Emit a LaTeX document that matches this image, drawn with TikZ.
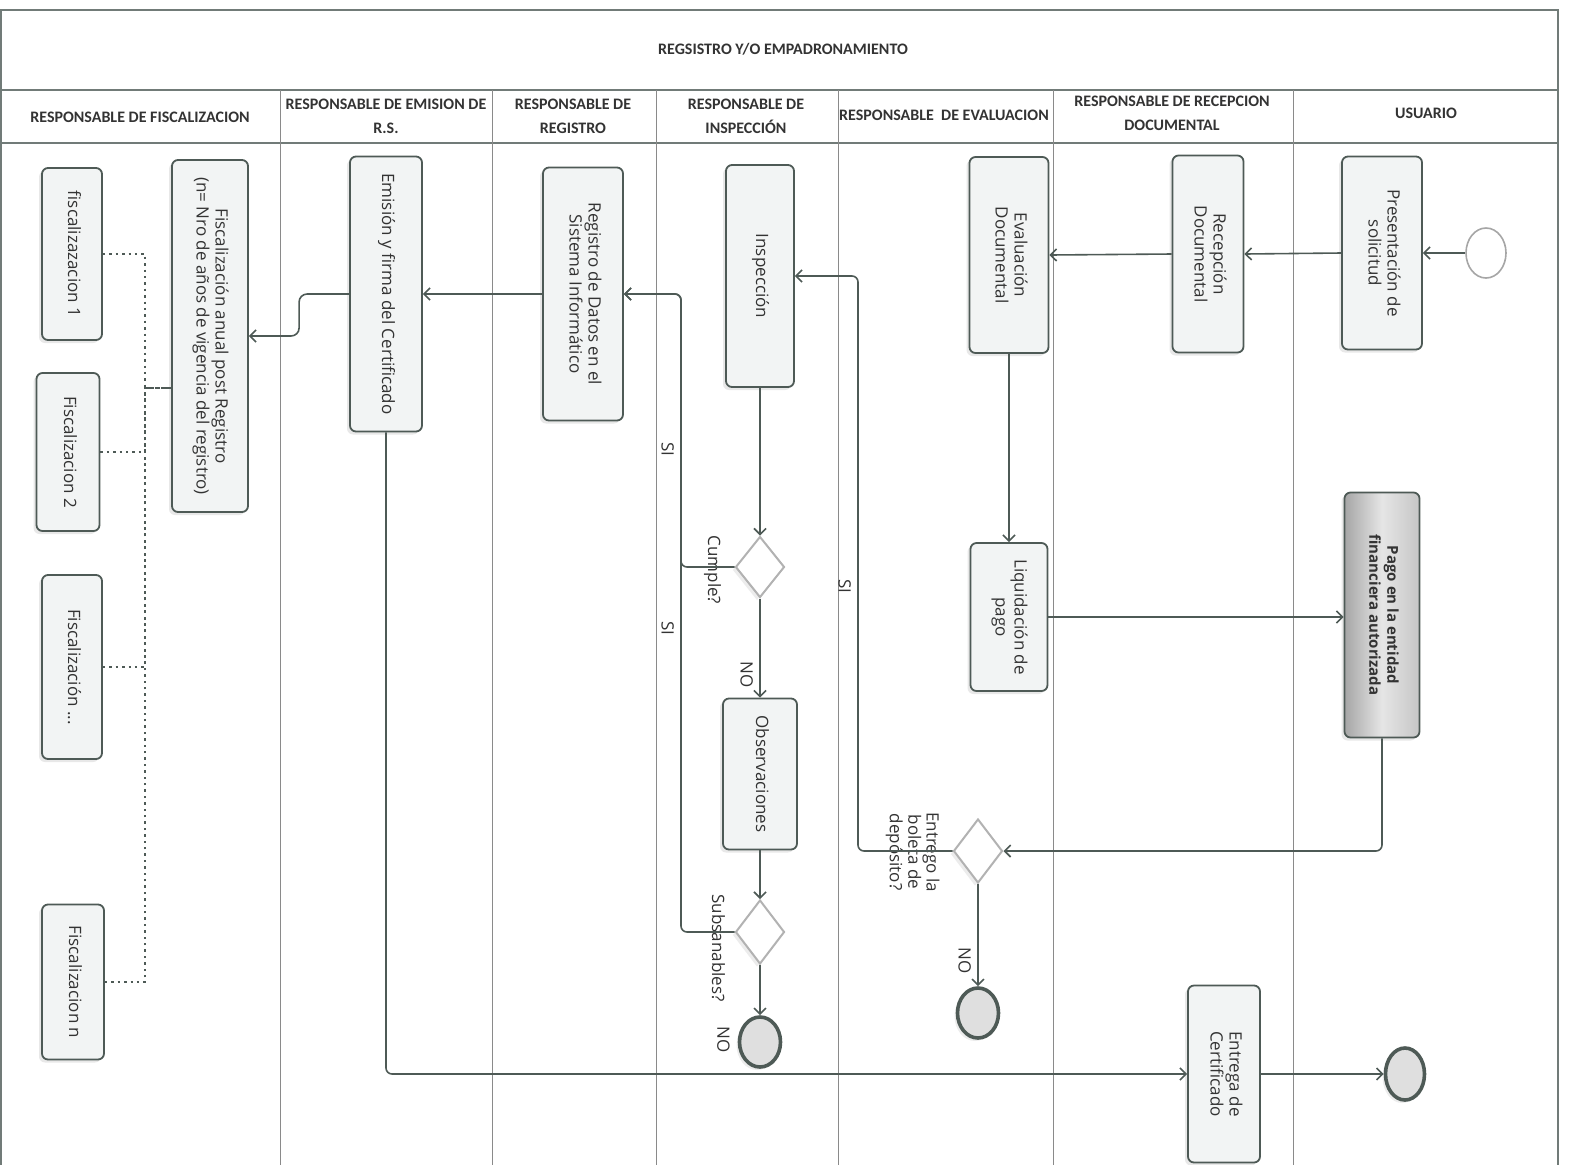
\documentclass[tikz,border=0pt]{standalone}
\usepackage{fontspec}
\usepackage{tikz}
\usetikzlibrary{arrows.meta,shapes.geometric,shadows}
\newfontfamily\boxfont{Open Sans}
\newfontfamily\headfont{Carlito}
\definecolor{linegray}{HTML}{4E5A56}
\definecolor{boxfill}{HTML}{F2F4F4}
\definecolor{textgray}{HTML}{333333}
\definecolor{lanegray}{HTML}{8A8A8A}
\newcommand{\rotlbl}[1]{\rotatebox{-90}{\begin{tabular}{@{}c@{}}#1\end{tabular}}}

\begin{document}
\begin{tikzpicture}[
  x=0.5pt, y=-0.5pt,
  boxsize/.style 2 args={minimum width=#1*0.5pt, minimum height=#2*0.5pt},
  task/.style={draw=linegray, line width=0.9pt, rounded corners=3pt, fill=boxfill,
    inner sep=0pt, text=textgray, font=\boxfont\fontsize{8.5}{9.5}\selectfont,
    drop shadow={opacity=0.18, shadow xshift=-1.5pt, shadow yshift=-1.5pt}},
  decision/.style={diamond, draw=gray!60, line width=1pt, fill=white, inner sep=0pt,
    drop shadow={opacity=0.15, shadow xshift=-1.5pt, shadow yshift=-1.5pt}},
  start/.style={ellipse, draw=gray!70, line width=0.8pt, fill=white, inner sep=0pt},
  finish/.style={ellipse, draw=linegray, line width=1.8pt, fill=gray!25, inner sep=0pt,
    drop shadow={opacity=0.15, shadow xshift=-1.5pt, shadow yshift=-1.5pt}},
  lbl/.style={inner sep=1pt, text=textgray, font=\boxfont\fontsize{8.5}{9}\selectfont},
  lanehead/.style={align=center, text=textgray, font=\headfont\bfseries\fontsize{8}{12}\selectfont},
  flow/.style={draw=linegray, line width=0.8pt, -{Straight Barb[length=3pt,width=6pt]}},
  dots/.style={draw=linegray, line width=1.2pt, dotted},
  lane/.style={draw=lanegray, line width=0.5pt},
  frame/.style={draw=linegray!80, line width=0.9pt}
]
\useasboundingbox (0,0) rectangle (1570,1164);

% frame and lanes
\draw[frame] (1,1170) -- (1,10) -- (1558,10) -- (1558,1170);
\draw[frame] (1,90) -- (1558,90);
\draw[frame] (1,143) -- (1558,143);
\foreach \x in {280,492,656,838,1053,1293}
  \draw[lane] (\x,90) -- (\x,1170);

\node[lanehead] (titulo) at (783,49) {REGSISTRO Y/O EMPADRONAMIENTO};
\node[lanehead] (hFisc) at (140,117) {RESPONSABLE DE FISCALIZACION};
\node[lanehead] (hEmision) at (386,116) {RESPONSABLE DE EMISION DE\\R.S.};
\node[lanehead] (hRegistro) at (573,116) {RESPONSABLE DE\\REGISTRO};
\node[lanehead] (hInspeccion) at (746,116) {RESPONSABLE DE\\INSPECCIÓN};
\node[lanehead] (hEvaluacion) at (944,115) {RESPONSABLE\ \ DE EVALUACION};
\node[lanehead] (hRecepcion) at (1172,113) {RESPONSABLE DE RECEPCION\\DOCUMENTAL};
\node[lanehead] (hUsuario) at (1426,113) {USUARIO};

% usuario
\node[start, boxsize={40}{50}] (inicio) at (1486,253) {};
\node[task, boxsize={80}{193}] (presentacion) at (1382,253) {\rotlbl{Presentación de\\solicitud}};
\node[task, boxsize={75}{245}, left color=gray!70, right color=gray!45, middle color=gray!20,
  font=\boxfont\bfseries\fontsize{7.5}{9}\selectfont] (pago) at (1382,615)
  {\rotlbl{Pago en la entidad\\financiera autorizada}};
\node[finish, boxsize={39}{52}] (fin3) at (1405,1074) {};
% recepcion
\node[task, boxsize={71}{197}] (recepcion) at (1208,254) {\rotlbl{Recepción\\Documental}};
\node[task, boxsize={72}{177}] (entrega) at (1224,1074) {\rotlbl{Entrega de\\Certificado}};
% evaluacion
\node[task, boxsize={79}{196}] (evaluacion) at (1009,255) {\rotlbl{Evaluación\\Documental}};
\node[task, boxsize={77}{148}] (liquidacion) at (1009,617) {\rotlbl{Liquidación de\\pago}};
\node[decision, boxsize={49}{64}] (entrego) at (978,851) {};
\node[lbl] (entregoLbl) at (912,852) {\rotlbl{Entrego la\\boleta de\\depósito?}};
\node[finish, boxsize={41}{50}] (fin2) at (978,1013) {};
% inspeccion
\node[task, boxsize={68}{222}] (inspeccion) at (760,276) {\rotlbl{Inspección}};
\node[decision, boxsize={49}{61}] (cumple) at (760,567) {};
\node[lbl] (cumpleLbl) at (712,570) {\rotlbl{Cumple?}};
\node[task, boxsize={74}{151}] (observaciones) at (760,774) {\rotlbl{Observaciones}};
\node[decision, boxsize={49}{64}] (subsanables) at (760,932) {};
\node[lbl] (subsanablesLbl) at (716,948) {\rotlbl{Subsanables?}};
\node[finish, boxsize={41}{50}] (fin1) at (760,1042) {};
\node[lbl] (fin1Lbl) at (721,1040) {\rotlbl{NO}};
% registro
\node[task, boxsize={80}{253}] (registro) at (583,294) {\rotlbl{Registro de Datos en el\\Sistema Informático}};
% emision
\node[task, boxsize={72}{275}] (emision) at (386,294) {\rotlbl{Emisión y firma del Certificado}};
% fiscalizacion
\node[task, boxsize={76}{352}] (anual) at (210,336)
  {\rotlbl{Fiscalización anual post Registro\\(n= Nro de años de vigencia del registro)}};
\node[task, boxsize={60}{172}] (fiscA) at (72,254) {\rotlbl{fiscalizazacion 1}};
\node[task, boxsize={63}{158}] (fiscB) at (68,452) {\rotlbl{Fiscalizacion 2}};
\node[task, boxsize={60}{184}] (fiscC) at (72,667) {\rotlbl{Fiscalización ...}};
\node[task, boxsize={62}{155}] (fiscN) at (73,982) {\rotlbl{Fiscalizacion n}};

\coordinate (siA) at (858,276);
\coordinate (siB) at (681,294);
\coordinate (bus) at (145,388);

% flows
\draw[flow] (inicio.west) -- (presentacion.east);
\draw[flow] (presentacion.west) -- (recepcion.east);
\draw[flow] (recepcion.west) -- (evaluacion.east);
\draw[flow] (evaluacion.south) -- (liquidacion.north);
\draw[flow] (liquidacion.east) -- (liquidacion.east -| pago.west);
\draw[flow, rounded corners=3pt] (pago.south) |- (entrego.east);
\draw[flow, rounded corners=3pt] (entrego.west) -| node[lbl, left=2pt, pos=0.73] (siEntrego) {\rotlbl{SI}} (siA) -- (inspeccion.east);
\draw[flow] (entrego.south) -- node[lbl, left=2pt, pos=0.75] (noEntrego) {\rotlbl{NO}} (fin2.north);
\draw[flow] (inspeccion.south) -- (cumple.north);
\draw[flow, rounded corners=3pt] (cumple.west) -| node[lbl, left=2pt, pos=0.715] (siCumple) {\rotlbl{SI}} (siB) -- (registro.east);
\draw[flow] (cumple.south) -- node[lbl, left=2pt, pos=0.77] (noCumple) {\rotlbl{NO}} (observaciones.north);
\draw[flow] (observaciones.south) -- (subsanables.north);
\draw[flow, rounded corners=3pt] (subsanables.west) -| node[lbl, left=2pt, pos=0.738] (siSubsanables) {\rotlbl{SI}} (siB) -- (registro.east);
\draw[flow] (subsanables.south) -- (fin1.north);
\draw[flow] (registro.west) -- (emision.east |- registro.west);
\draw[flow, rounded corners=4pt] (emision.west) -- ++(-50,0) |- (anual.east);
\draw[flow, rounded corners=3pt] (emision.south) |- (entrega.west);
\draw[flow] (entrega.east) -- (fin3.west);

% fiscalizaciones
\foreach \f in {fiscA,fiscB,fiscC,fiscN}
  \draw[dots] (\f.east) -| (bus) -- (bus -| anual.west);
\end{tikzpicture}
\end{document}
